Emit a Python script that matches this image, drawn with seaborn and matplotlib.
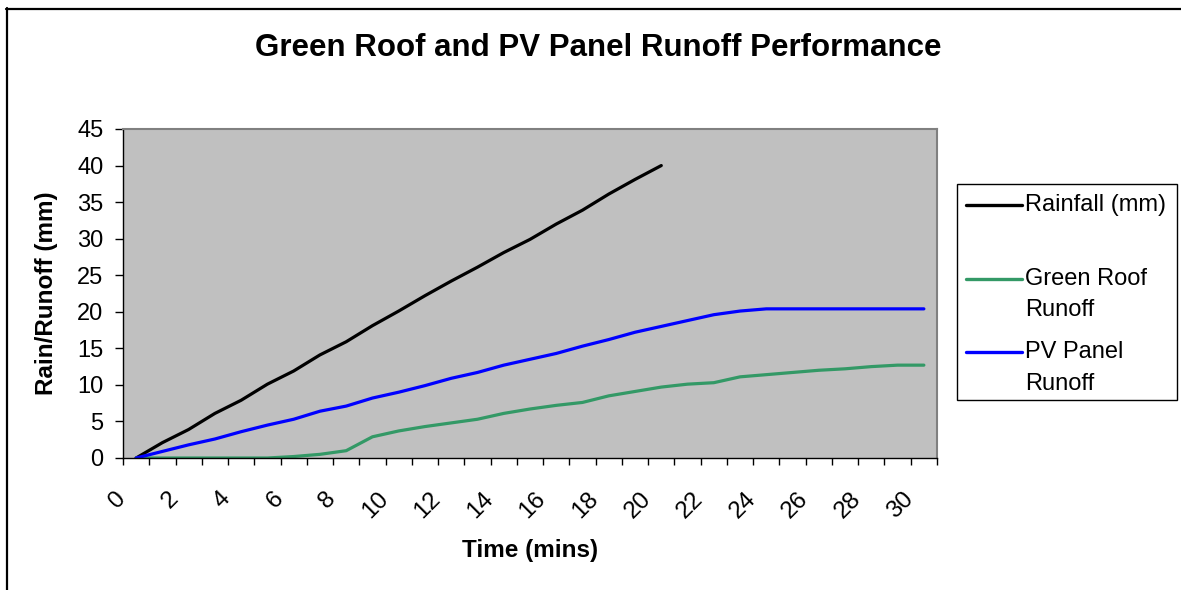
import numpy as np
import pandas as pd
import matplotlib
matplotlib.use("Agg")
import matplotlib.pyplot as plt
import matplotlib.transforms as mtransforms
from matplotlib.lines import Line2D
from matplotlib.patches import Rectangle
import seaborn as sns

# ---- data -------------------------------------------------------------
minutes = list(range(31))
x_tick_labels = [str(m) for m in range(0, 31, 2)]
y_ticks = list(range(0, 46, 5))

rainfall = [0, 2.1, 3.9, 6.1, 7.9, 10.1, 11.9, 14.1, 15.9, 18.1, 20.1,
            22.2, 24.2, 26.1, 28.1, 29.9, 32.0, 33.9, 36.1, 38.1, 40.0]
green_roof = [0, 0, 0, 0, 0, 0, 0.2, 0.5, 1.0, 2.9, 3.7,
              4.3, 4.8, 5.3, 6.1, 6.7, 7.2, 7.6, 8.5, 9.1, 9.7,
              10.1, 10.3, 11.1, 11.4, 11.7, 12.0, 12.2, 12.5, 12.7, 12.7]
pv_panel = [0, 0.9, 1.8, 2.6, 3.6, 4.5, 5.3, 6.4, 7.1, 8.2, 9.0,
            9.9, 10.9, 11.7, 12.7, 13.5, 14.3, 15.3, 16.2, 17.2, 18.0,
            18.8, 19.6, 20.1, 20.4, 20.4, 20.4, 20.4, 20.4, 20.4, 20.4]

series_names = ["Rainfall (mm)", "Green Roof Runoff", "PV Panel Runoff"]
legend_labels = ["Rainfall (mm)", "Green Roof\nRunoff", "PV Panel\nRunoff"]
series_colors = ["#000000", "#339966", "#0000FF"]

frames = []
for name, vals in zip(series_names, [rainfall, green_roof, pv_panel]):
    frames.append(pd.DataFrame({"minute": minutes[:len(vals)],
                                "value": vals, "series": name}))
df = pd.concat(frames, ignore_index=True)

# ---- style ------------------------------------------------------------
sns.set_style("ticks")
plt.rcParams["font.family"] = ["Liberation Sans", "DejaVu Sans"]
for key in ["text.color", "axes.labelcolor", "xtick.color", "ytick.color"]:
    plt.rcParams[key] = "black"

W, H, DPI = 1181, 590, 100
fig = plt.figure(figsize=(W / DPI, H / DPI), dpi=DPI)
fig.patch.set_facecolor("white")

ax_l, ax_r, ax_t, ax_b = 123, 937, 129, 458
ax = fig.add_axes([ax_l / W, 1 - ax_b / H, (ax_r - ax_l) / W, (ax_b - ax_t) / H])
ax.set_facecolor("#C0C0C0")

sns.lineplot(data=df, x="minute", y="value", hue="series",
             hue_order=series_names, palette=dict(zip(series_names, series_colors)),
             linewidth=2.3, legend=False, ax=ax, sort=False)

ax.set_xlim(-0.5, 30.5)
ax.set_ylim(0, 45)

# spines: black axes, grey frame
for side in ["left", "bottom"]:
    ax.spines[side].set_color("black")
    ax.spines[side].set_linewidth(1.0)
for side in ["top", "right"]:
    ax.spines[side].set_visible(True)
    ax.spines[side].set_color("#808080")
    ax.spines[side].set_linewidth(1.5)

# y axis
ax.set_yticks(y_ticks)
ax.set_yticklabels([str(v) for v in y_ticks])
ax.tick_params(axis="y", direction="out", length=5.5, width=1, color="black",
               labelcolor="black", pad=8.5, labelsize=17)

# x axis: tick marks between categories, labels every 2 minutes
ax.set_xticks(list(range(0, 31, 2)))
ax.set_xticklabels(x_tick_labels)
ax.set_xticks(np.arange(-0.5, 31, 1), minor=True)
ax.tick_params(axis="x", which="major", length=0, pad=27, labelsize=17.5,
               labelcolor="black")
ax.tick_params(axis="x", which="minor", direction="out", length=5, width=1,
               color="black")
shift = mtransforms.ScaledTranslation(-14 / DPI, 0, fig.dpi_scale_trans)
for lab in ax.get_xticklabels():
    lab.set_rotation(45)
    lab.set_ha("right")
    lab.set_va("center")
    lab.set_rotation_mode("anchor")
    lab.set_transform(lab.get_transform() + shift)

ax.set_xlabel("")
ax.set_ylabel("")

# titles
fig.text(598 / W, 1 - 48 / H, "Green Roof and PV Panel Runoff Performance",
         ha="center", va="center", fontsize=22.5, fontweight="bold", color="black")
fig.text(530 / W, 1 - 551 / H, "Time (mins)", ha="center", va="center",
         fontsize=17.5, fontweight="bold", color="black")
fig.text(47 / W, 1 - 293 / H, "Rain/Runoff (mm)", ha="center", va="center",
         rotation=90, fontsize=17.5, fontweight="bold", color="black")

# legend box
def fx(px):
    return px / W

def fy(py):
    return 1 - py / H

fig.add_artist(Rectangle((fx(957), fy(400)), fx(1177) - fx(957), fy(184) - fy(400),
                         transform=fig.transFigure, facecolor="white",
                         edgecolor="black", linewidth=1.0))
legend_rows = [205, 279, 352]
for label, color, ry in zip(legend_labels, series_colors, legend_rows):
    fig.add_artist(Line2D([fx(966), fx(1022)], [fy(ry), fy(ry)],
                          transform=fig.transFigure, color=color, linewidth=2.4))
    for k, part in enumerate(label.split("\n")):
        fig.text(fx(1025), fy(ry + 31.5 * k), part, ha="left", va="center",
                 fontsize=17, color="black")

# chart-area border (left and top edges)
fig.add_artist(Line2D([fx(7), fx(7)], [0, fy(8)], transform=fig.transFigure,
                      color="black", linewidth=1.6))
fig.add_artist(Line2D([fx(6), 1], [fy(9), fy(9)], transform=fig.transFigure,
                      color="black", linewidth=1.6))

fig.savefig("out.png", dpi=DPI)
